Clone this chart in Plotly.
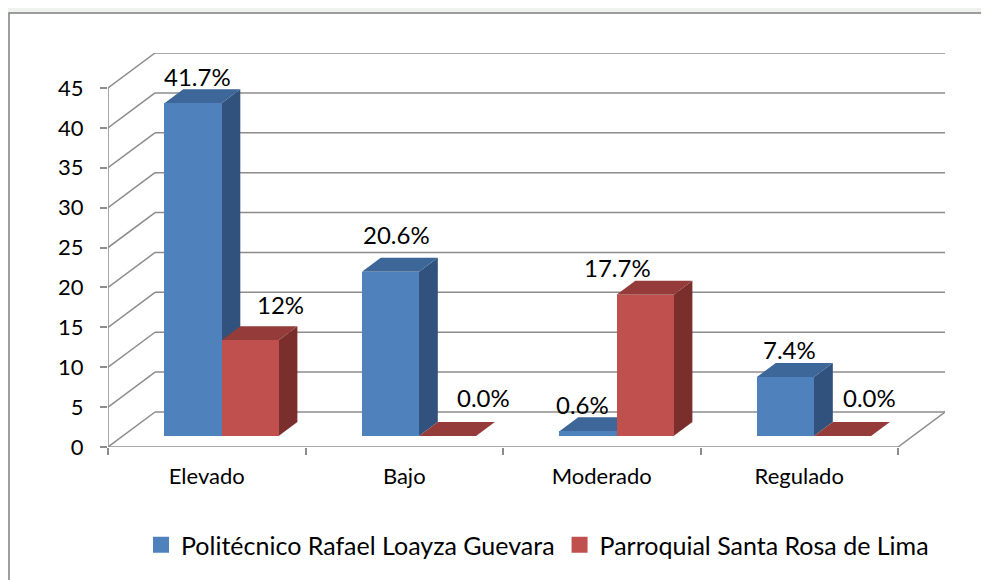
import plotly.graph_objects as go

# ---------------- data ----------------
categories = ["Elevado", "Bajo", "Moderado", "Regulado"]
series_names = ["Politécnico Rafael Loayza Guevara", "Parroquial Santa Rosa de Lima"]
politecnico = [41.7, 20.6, 0.6, 7.4]
parroquial = [12, 0, 17.7, 0]
politecnico_labels = ["41.7%", "20.6%", "0.6%", "7.4%"]
parroquial_labels = ["12%", "0.0%", "17.7%", "0.0%"]
y_ticks = [0, 5, 10, 15, 20, 25, 30, 35, 40, 45]

# ---------------- style / geometry ----------------
OFF = 8                      # default page body margin
W, H = 989 - OFF, 580 - OFF
ML, MR, MT, MB = 108 - OFF, 44, 53 - OFF, 133
DEPTH_X = 0.238          # full floor depth, in category units
DEPTH_Y = 4.386          # full floor depth, in value units
F0, F1 = 0.314, 0.714    # bar front/back depth fractions
BAR_W = 0.289
GRID = "#8C8C8C"
FONT = "Lato, Calibri, sans-serif"
front_cols = ["#4F81BD", "#C0504D"]
top_cols = ["#3D6699", "#953C3A"]
side_cols = ["#31527C", "#7B2F2D"]
# label shifts (px) relative to centre of bar's top face
lab_shift_blue = [(-5, 13), (-3, 23), (-15, 13), (-5, 13)]
lab_shift_red = [(21, 22), (27, 25), (-37, 13), (18, 25)]

x_lo, x_hi = -0.5, len(categories) - 0.5 + DEPTH_X
y_hi = max(y_ticks) + DEPTH_Y

def path(pts):
    return "M " + " L ".join(f"{x},{y}" for x, y in pts) + " Z"

# page pixel -> paper coordinate
px = lambda p: ((p - OFF) - ML) / (W - ML - MR)
py = lambda p: (H - MB - (p - OFF)) / (H - MB - MT)

shapes = []
# faint strip above the chart frame and the frame itself
shapes.append(dict(type="rect", xref="paper", yref="paper", layer="below",
                   x0=px(-5), x1=px(W + 20), y0=py(13), y1=py(-5),
                   fillcolor="#EEF1EC", line=dict(width=0)))
shapes.append(dict(type="rect", xref="paper", yref="paper", layer="below",
                   x0=px(9), x1=px(W + 30), y0=py(H + 30), y1=py(13),
                   fillcolor="rgba(0,0,0,0)", line=dict(color="#7F7F7F", width=1.5)))
# back wall grid + left wall diagonals
for v in y_ticks:
    shapes.append(dict(type="line", xref="x", yref="y", layer="below",
                       x0=-0.5 + DEPTH_X, x1=len(categories) - 0.5 + DEPTH_X,
                       y0=v + DEPTH_Y, y1=v + DEPTH_Y, line=dict(color=GRID, width=1.5)))
    shapes.append(dict(type="line", xref="x", yref="y", layer="below",
                       x0=-0.5, x1=-0.5 + DEPTH_X, y0=v, y1=v + DEPTH_Y,
                       line=dict(color=GRID, width=1.5)))
# front vertical axis line
shapes.append(dict(type="line", xref="x", yref="y", layer="below",
                   x0=-0.5, x1=-0.5, y0=0, y1=max(y_ticks), line=dict(color=GRID, width=1.5)))
# floor front edge + right edge
shapes.append(dict(type="line", xref="x", yref="y", layer="below",
                   x0=-0.5, x1=len(categories) - 0.5, y0=0, y1=0, line=dict(color=GRID, width=1.5)))
shapes.append(dict(type="line", xref="x", yref="y", layer="below",
                   x0=len(categories) - 0.5, x1=len(categories) - 0.5 + DEPTH_X, y0=0, y1=DEPTH_Y,
                   line=dict(color=GRID, width=1.5)))

base = F0 * DEPTH_Y
shift_x = F0 * DEPTH_X
ddx = (F1 - F0) * DEPTH_X
ddy = (F1 - F0) * DEPTH_Y

fig = go.Figure()
annotations = []
for s, (vals, labs, shifts) in enumerate([(politecnico, politecnico_labels, lab_shift_blue),
                                          (parroquial, parroquial_labels, lab_shift_red)]):
    xs = []
    for i, v in enumerate(vals):
        cx = i + shift_x + (s - 0.5) * BAR_W
        xs.append(cx)
        x0, x1 = cx - BAR_W / 2, cx + BAR_W / 2
        top = base + v
        # side face
        shapes.append(dict(type="path", xref="x", yref="y", layer="below",
                           path=path([(x1, base), (x1, top), (x1 + ddx, top + ddy), (x1 + ddx, base + ddy)]),
                           fillcolor=side_cols[s], line=dict(width=0)))
        # top face
        shapes.append(dict(type="path", xref="x", yref="y", layer="below",
                           path=path([(x0, top), (x1, top), (x1 + ddx, top + ddy), (x0 + ddx, top + ddy)]),
                           fillcolor=top_cols[s], line=dict(width=0)))
        annotations.append(dict(x=cx + ddx / 2, y=top + ddy, xref="x", yref="y", text=labs[i],
                                showarrow=False, xanchor="center", yanchor="middle",
                                xshift=shifts[i][0], yshift=shifts[i][1],
                                font=dict(family=FONT, size=24, color="#000000")))
    fig.add_trace(go.Bar(x=xs, y=vals, base=base, width=BAR_W, name=series_names[s],
                         marker=dict(color=front_cols[s], line=dict(width=0)),
                         showlegend=False, hoverinfo="skip"))
    # legend entry (square swatch)
    fig.add_trace(go.Scatter(x=[None], y=[None], mode="markers", name=series_names[s],
                             marker=dict(symbol="square", size=17, color=front_cols[s]),
                             showlegend=True))

fig.update_layout(
    width=W, height=H,
    margin=dict(l=ML, r=MR, t=MT, b=MB, autoexpand=False),
    paper_bgcolor="white", plot_bgcolor="rgba(0,0,0,0)",
    barmode="overlay", bargap=0,
    shapes=shapes, annotations=annotations,
    font=dict(family=FONT, color="#000000"),
    showlegend=True,
    legend=dict(orientation="h", x=px(141), xanchor="left", y=py(545), yanchor="middle",
                font=dict(family=FONT, size=25, color="#000000"),
                itemsizing="trace", tracegroupgap=0, bgcolor="rgba(0,0,0,0)", borderwidth=0),
    xaxis=dict(range=[x_lo, x_hi], tickmode="array", tickvals=list(range(len(categories))),
               ticktext=categories, ticks="", showgrid=False, zeroline=False, showline=False,
               automargin=False,
               tickfont=dict(family=FONT, size=22, color="#000000"), ticklabelstandoff=14,
               minor=dict(tickmode="array", tickvals=[i - 0.5 for i in range(len(categories) + 1)],
                          ticks="outside", ticklen=7, tickcolor=GRID, tickwidth=1.5, showgrid=False),
               fixedrange=True),
    yaxis=dict(range=[0, y_hi], tickmode="array", tickvals=y_ticks, ticks="outside", ticklen=7,
               tickcolor=GRID, tickwidth=1.5, showgrid=False, zeroline=False, showline=False,
               automargin=False,
               tickfont=dict(family=FONT, size=22, color="#000000"), ticklabelstandoff=12,
               fixedrange=True),
)

fig.write_html("out.html")
